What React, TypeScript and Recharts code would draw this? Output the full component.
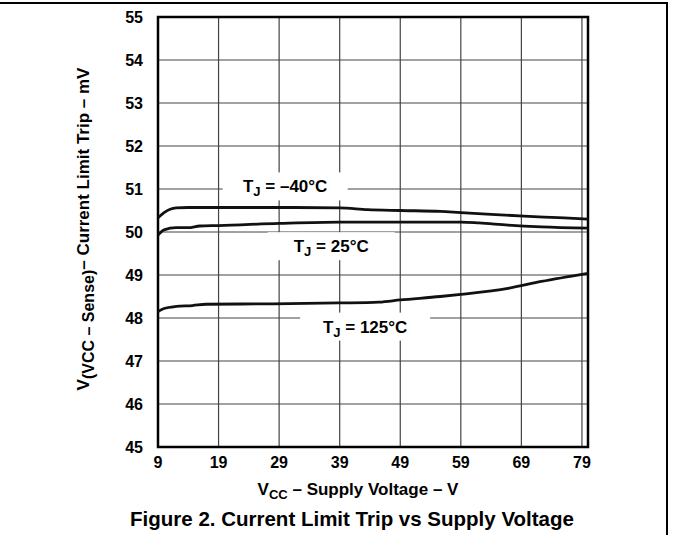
import React from 'react';
import { LineChart, Line, XAxis, YAxis, CartesianGrid, ReferenceArea, ReferenceDot } from 'recharts';

// supply voltage (V) sample points for each curve
const xMinus40 = [9, 10, 11, 12, 14, 19, 29, 39, 43.6, 49, 55.6, 59, 64, 69.4, 74, 80];
const yMinus40 = [50.33, 50.45, 50.53, 50.56, 50.57, 50.57, 50.57, 50.56, 50.52, 50.5, 50.48, 50.45, 50.41, 50.37, 50.34, 50.3];

const x25 = [9, 10, 12, 14, 15.9, 19, 29, 39, 49, 59, 62, 66.8, 72.3, 80];
const y25 = [49.93, 50.05, 50.1, 50.1, 50.14, 50.15, 50.2, 50.23, 50.23, 50.23, 50.21, 50.16, 50.12, 50.09];

const x125 = [9, 10, 12, 14.7, 16.9, 27.9, 38.9, 45.5, 49, 55.6, 59, 66.8, 72.3, 80];
const y125 = [48.15, 48.22, 48.27, 48.29, 48.32, 48.33, 48.35, 48.37, 48.42, 48.5, 48.55, 48.69, 48.85, 49.04];

const xTicks = [9, 19, 29, 39, 49, 59, 69, 79];
const yTicks = [45, 46, 47, 48, 49, 50, 51, 52, 53, 54, 55];

const toPoints = (xs: number[], ys: number[]) => xs.map((x, i) => ({ x, y: ys[i] }));

const FONT = 'Arial, "Liberation Sans", Helvetica, sans-serif';

// curve annotations: position in data coords, temperature text
const curveLabels = [
  { x: 30, y: 51.06, temp: ' = \u201340\u00b0C', w: 125 },
  { x: 37.6, y: 49.67, temp: ' = 25\u00b0C', w: 127 },
  { x: 43.2, y: 47.8, temp: ' = 125\u00b0C', w: 130 },
];

const TjLabel = (props: any) => {
  const { viewBox, temp, w } = props;
  const cx = viewBox.x;
  const cy = viewBox.y;
  return (
    <g>
      <rect x={cx - w / 2} y={cy - 14} width={w} height={28} fill="#fff" />
      <text x={cx} y={cy + 6} textAnchor="middle" fontFamily={FONT} fontWeight="bold" fontSize={17} fill="#000">
        T<tspan fontSize={13} dy={4}>J</tspan>
        <tspan dy={-4}>{temp}</tspan>
      </text>
    </g>
  );
};

const XTick = (p: any) => (
  <text x={p.x} y={p.y} dy="0.71em" textAnchor="middle" fontFamily={FONT} fontWeight="bold" fontSize={16} fill="#000">
    {p.payload.value}
  </text>
);

const YTick = (p: any) => (
  <text x={p.x} y={p.y} dy="0.36em" textAnchor="end" fontFamily={FONT} fontWeight="bold" fontSize={16} fill="#000">
    {p.payload.value}
  </text>
);

export default function App() {
  return (
    <div style={{ position: 'absolute', left: 0, top: 0, width: 673, height: 535, background: '#fff' }}>
      <div style={{ position: 'absolute', left: 0, top: 2, width: 668, height: 2, background: '#000' }} />
      <div style={{ position: 'absolute', left: 666, top: 2, width: 2, height: 533, background: '#000' }} />
      <LineChart width={673} height={535} margin={{ top: 17, right: 85, left: 98, bottom: 58 }}>
        <CartesianGrid stroke="#444" strokeWidth={1.2} />
        <XAxis
          type="number"
          dataKey="x"
          domain={[9, 80]}
          ticks={xTicks}
          allowDataOverflow
          tickLine={false}
          axisLine={false}
          tickMargin={4}
          height={30}
          tick={<XTick />}
          label={{
            content: () => (
              <text x={358} y={495} textAnchor="middle" fontFamily={FONT} fontWeight="bold" fontSize={17} fill="#000">
                V<tspan fontSize={13} dy={4}>CC</tspan>
                <tspan dy={-4}> {'\u2013'} Supply Voltage {'\u2013'} V</tspan>
              </text>
            ),
          }}
        />
        <YAxis
          type="number"
          domain={[45, 55]}
          ticks={yTicks}
          tickLine={false}
          axisLine={false}
          tickMargin={9}
          width={60}
          tick={<YTick />}
          label={{
            content: () => (
              <text
                transform="translate(89,229) rotate(-90)"
                x={0}
                y={0}
                textAnchor="middle"
                fontFamily={FONT}
                fontWeight="bold"
                fontSize={17}
                fill="#000"
              >
                V<tspan fontSize={16} dy={5}>(VCC {'\u2013'} Sense)</tspan>
                <tspan dy={-5}>{'\u2013'} Current Limit Trip {'\u2013'} mV</tspan>
              </text>
            ),
          }}
        />
        <ReferenceArea x1={9} x2={80} y1={45} y2={55} fill="none" stroke="#000" strokeWidth={2.5} ifOverflow="visible" />
        <Line data={toPoints(xMinus40, yMinus40)} dataKey="y" type="monotone" stroke="#111" strokeWidth={2.8} dot={false} isAnimationActive={false} />
        <Line data={toPoints(x25, y25)} dataKey="y" type="monotone" stroke="#111" strokeWidth={2.8} dot={false} isAnimationActive={false} />
        <Line data={toPoints(x125, y125)} dataKey="y" type="monotone" stroke="#111" strokeWidth={2.8} dot={false} isAnimationActive={false} />
        {curveLabels.map((l, i) => (
          <ReferenceDot
            key={i}
            x={l.x}
            y={l.y}
            r={0}
            fill="none"
            stroke="none"
            label={(p: any) => <TjLabel {...p} temp={l.temp} w={l.w} />}
          />
        ))}
      </LineChart>
      <div
        style={{
          position: 'absolute',
          left: 0,
          width: 704,
          top: 507,
          textAlign: 'center',
          fontFamily: FONT,
          fontWeight: 'bold',
          fontSize: 20.5,
          color: '#000',
        }}
      >
        Figure 2. Current Limit Trip vs Supply Voltage
      </div>
    </div>
  );
}
